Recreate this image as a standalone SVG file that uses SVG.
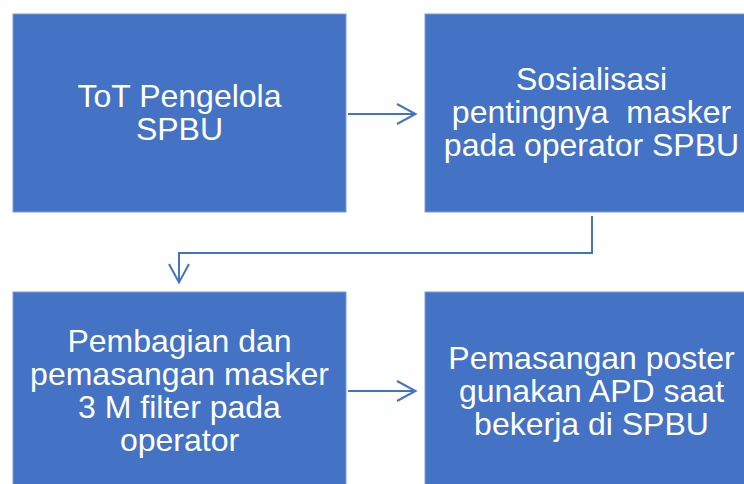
<svg xmlns="http://www.w3.org/2000/svg" width="744" height="484" viewBox="0 0 744 484">
<defs>
<style>
.box{fill:#4472C4;stroke:#7b9bd6;stroke-width:1}
.t{font-family:"Liberation Sans",Arial,sans-serif;font-size:32px;fill:#ffffff;text-anchor:middle}
.c{fill:none;stroke:#4472C4;stroke-width:2}
</style>
</defs>
<rect width="744" height="484" fill="#ffffff"/>
<g id="n1">
<rect class="box" x="13" y="14" width="333" height="198"/>
<text class="t"><tspan x="179.5" y="107">ToT Pengelola</tspan><tspan x="179.5" y="140">SPBU</tspan></text>
</g>
<g id="n2">
<rect class="box" x="425" y="14" width="333" height="198"/>
<text class="t"><tspan x="591.5" y="90">Sosialisasi</tspan><tspan x="591.5" y="123" xml:space="preserve">pentingnya  masker</tspan><tspan x="591.5" y="156">pada operator SPBU</tspan></text>
</g>
<g id="n3">
<rect class="box" x="13" y="292" width="333" height="198"/>
<text class="t"><tspan x="179.5" y="352">Pembagian dan</tspan><tspan x="179.5" y="385">pemasangan masker</tspan><tspan x="179.5" y="418">3 M filter pada</tspan><tspan x="179.5" y="451">operator</tspan></text>
</g>
<g id="n4">
<rect class="box" x="425" y="292" width="333" height="198"/>
<text class="t"><tspan x="591.5" y="368.5">Pemasangan poster</tspan><tspan x="591.5" y="401.5">gunakan APD saat</tspan><tspan x="591.5" y="435">bekerja di SPBU</tspan></text>
</g>
<g id="connectors">
<path class="c" d="M348 114 H415"/>
<path class="c" d="M397 104 L415.5 114 L397 124"/>
<path class="c" d="M592 216 V253 H179 V282"/>
<path class="c" d="M169 264 L179 282.5 L189 264"/>
<path class="c" d="M348 391 H415"/>
<path class="c" d="M397 381 L415.5 391 L397 401"/>
</g>
</svg>
